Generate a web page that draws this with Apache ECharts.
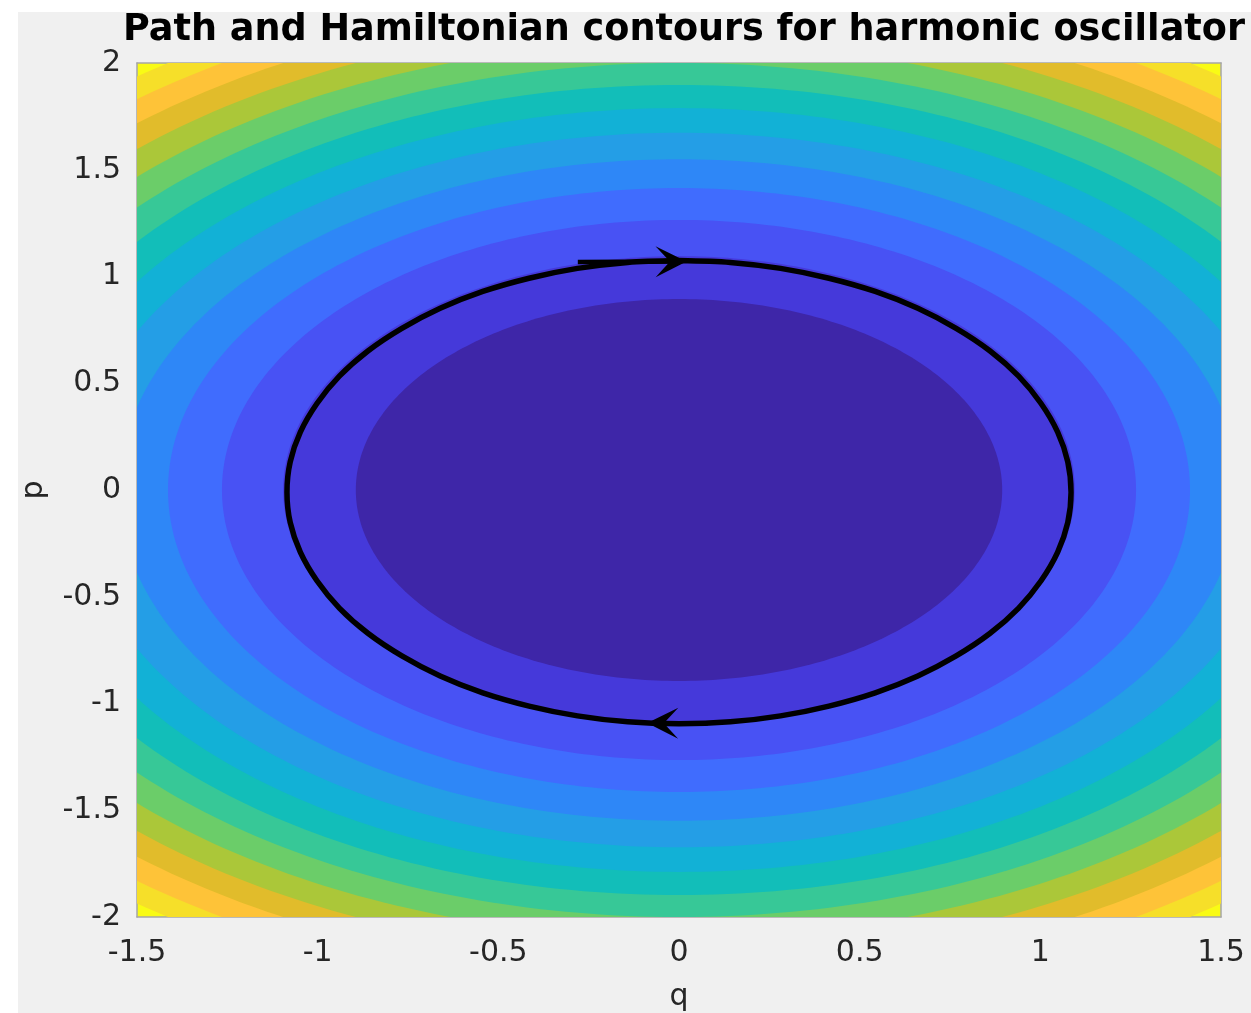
<!DOCTYPE html>
<html>
<head>
<meta charset="utf-8">
<script src="https://cdn.jsdelivr.net/npm/echarts@6/dist/echarts.min.js"></script>
<style>
  html, body { margin: 0; padding: 0; background: #ffffff; }
  #chart { width: 1251px; height: 1013px; }
</style>
</head>
<body>
<div id="chart"></div>
<script>
// Contour levels of the Hamiltonian H(q, p) = (q^2 + p^2) / 2
const contourLevels = [0.4, 0.6, 0.8, 1.0, 1.2, 1.4, 1.6, 1.8, 2.0, 2.2, 2.4, 2.6, 2.8, 3.0];

// Parula fill colours, one per band, from the lowest band (H < 0.4) to the highest (H > 3.0)
const bandColors = [
  '#3E26A8', '#4539DA', '#4852F4', '#406CFE', '#2E87F7', '#249EE6', '#12B1D6',
  '#12BEB9', '#37C897', '#6BCD69', '#ABC739', '#E1BC2B', '#FEC338', '#F6DF29', '#F9FB15'
];

// Phase-space path (q, p), traced clockwise from the top
const pathQ = [
  0, 0.142, 0.281, 0.415, 0.543, 0.661, 0.767, 0.861, 0.940, 1.002, 1.048, 1.076,
  1.085, 1.076, 1.048, 1.002, 0.940, 0.861, 0.767, 0.661, 0.543, 0.415, 0.281, 0.142,
  0, -0.142, -0.281, -0.415, -0.543, -0.661, -0.767, -0.861, -0.940, -1.002, -1.048, -1.076,
  -1.085, -1.076, -1.048, -1.002, -0.940, -0.861, -0.767, -0.661, -0.543, -0.415, -0.281, -0.142, 0
];
const pathP = [
  1.075, 1.066, 1.038, 0.992, 0.930, 0.851, 0.757, 0.651, 0.533, 0.405, 0.271, 0.132,
  -0.010, -0.152, -0.291, -0.425, -0.553, -0.671, -0.777, -0.871, -0.950, -1.012, -1.058, -1.086,
  -1.095, -1.086, -1.058, -1.012, -0.950, -0.871, -0.777, -0.671, -0.553, -0.425, -0.291, -0.152,
  -0.010, 0.132, 0.271, 0.405, 0.533, 0.651, 0.757, 0.851, 0.930, 0.992, 1.038, 1.066, 1.075
];

// Direction arrows on the path: [qStart, pStart, qEnd, pEnd]
const arrowTop = [-0.28, 1.068, -0.022, 1.070];
const arrowBottom = [0.08, -1.093, -0.045, -1.092];

// Axis ticks
const qTicks = [-1.5, -1, -0.5, 0, 0.5, 1, 1.5];
const pTicks = [-2, -1.5, -1, -0.5, 0, 0.5, 1, 1.5, 2];

const FONT = 'DejaVu Sans';
const TICK_COLOR = '#262626';
const BOX_COLOR = '#a6a6a6';

// Filled contour bands: highest level first, each filled disc covers the one before it
const contourData = contourLevels
  .map((lvl, i) => [lvl, i])
  .reverse();

const pathData = pathQ.map((q, i) => [q, pathP[i]]);

const chart = echarts.init(document.getElementById('chart'), null, { renderer: 'canvas' });

const hiddenAxis = {
  type: 'value',
  axisLine: { show: true, onZero: false, lineStyle: { color: BOX_COLOR, width: 1.5 } },
  axisTick: { show: false },
  axisLabel: { show: false },
  splitLine: { show: false }
};

chart.setOption({
  animation: false,
  backgroundColor: '#ffffff',
  graphic: [
    {
      type: 'rect',
      z: -100,
      silent: true,
      shape: { x: 18, y: 12, width: 1251 - 18, height: 1013 - 12 },
      style: { fill: '#f0f0f0' }
    },
    {
      type: 'text',
      z: 100,
      x: 684,
      y: 30,
      style: {
        text: 'Path and Hamiltonian contours for harmonic oscillator',
        fill: '#000000',
        font: 'bold 36.6px "DejaVu Sans"',
        align: 'center',
        verticalAlign: 'middle'
      }
    }
  ],
  grid: {
    left: 137,
    top: 63,
    width: 1084,
    height: 854,
    show: true,
    backgroundColor: bandColors[bandColors.length - 1],
    borderWidth: 0,
    containLabel: false,
    outerBoundsMode: 'none'
  },
  xAxis: [
    {
      type: 'value',
      min: qTicks[0],
      max: qTicks[qTicks.length - 1],
      interval: 0.5,
      name: 'q',
      nameLocation: 'middle',
      nameGap: 65,
      nameTextStyle: { fontFamily: FONT, fontSize: 30, color: TICK_COLOR },
      axisLine: { show: true, onZero: false, lineStyle: { color: BOX_COLOR, width: 1.5 } },
      axisTick: { show: false },
      splitLine: { show: false },
      axisLabel: { fontFamily: FONT, fontSize: 30, color: TICK_COLOR, margin: 21 }
    },
    Object.assign({ position: 'top', min: qTicks[0], max: qTicks[qTicks.length - 1] }, hiddenAxis)
  ],
  yAxis: [
    {
      type: 'value',
      min: pTicks[0],
      max: pTicks[pTicks.length - 1],
      interval: 0.5,
      name: 'p',
      nameLocation: 'middle',
      nameGap: 88,
      nameTextStyle: { fontFamily: FONT, fontSize: 30, color: TICK_COLOR },
      axisLine: { show: true, onZero: false, lineStyle: { color: BOX_COLOR, width: 1.5 } },
      axisTick: { show: false },
      splitLine: { show: false },
      axisLabel: { fontFamily: FONT, fontSize: 30, color: TICK_COLOR, margin: 16 }
    },
    Object.assign({ position: 'right', min: pTicks[0], max: pTicks[pTicks.length - 1] }, hiddenAxis)
  ],
  series: [
    {
      type: 'custom',
      name: 'H contours',
      clip: true,
      silent: true,
      z: 1,
      data: contourData,
      encode: { x: 0, y: 1 },
      renderItem: function (params, api) {
        const level = api.value(0);
        const band = api.value(1);
        const r = Math.sqrt(2 * level);
        const n = 360;
        const pts = [];
        for (let k = 0; k < n; k++) {
          const t = (k / n) * Math.PI * 2;
          pts.push(api.coord([r * Math.cos(t), r * Math.sin(t)]));
        }
        return {
          type: 'polygon',
          shape: { points: pts },
          style: { fill: bandColors[band], stroke: null }
        };
      }
    },
    {
      type: 'line',
      name: 'path',
      z: 5,
      data: pathData,
      showSymbol: false,
      smooth: 0.3,
      clip: false,
      lineStyle: { color: '#000000', width: 5.5, join: 'round' },
      silent: true
    },
    {
      type: 'lines',
      coordinateSystem: 'cartesian2d',
      z: 6,
      silent: true,
      symbol: ['none', 'path://M0,0L10,28L0,15L-10,28Z'],
      symbolSize: [28, 31],
      lineStyle: { color: '#000000', width: 4.5, opacity: 1, curveness: 0 },
      data: [
        { coords: [[arrowTop[0], arrowTop[1]], [arrowTop[2], arrowTop[3]]] },
        { coords: [[arrowBottom[0], arrowBottom[1]], [arrowBottom[2], arrowBottom[3]]] }
      ]
    }
  ]
});
</script>
</body>
</html>
